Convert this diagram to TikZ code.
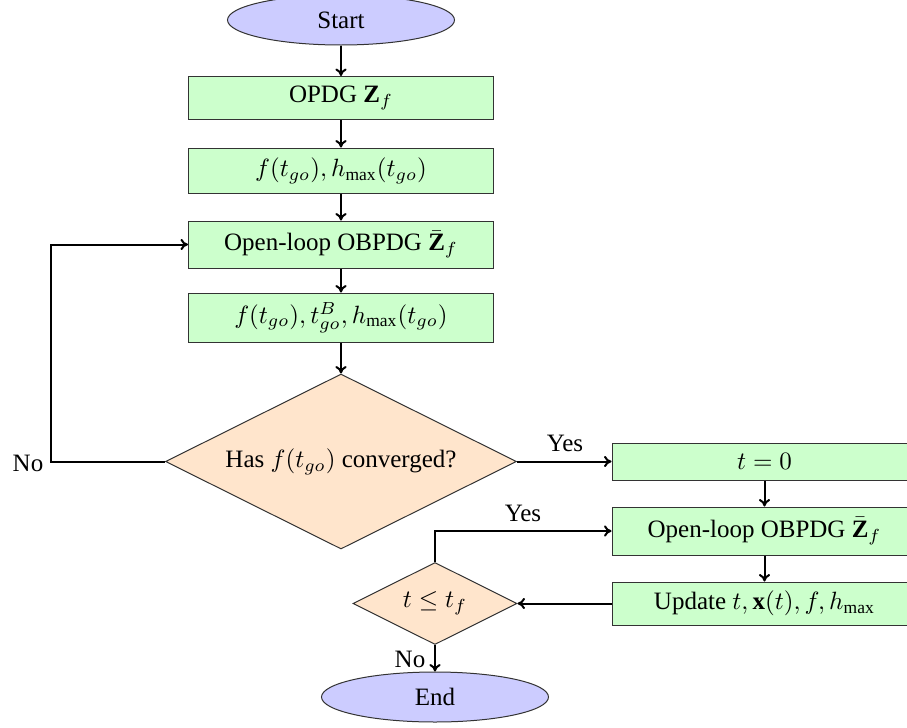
\documentclass[tikz,border=0pt]{standalone}
\usepackage{fontspec}
\setmainfont{Liberation Serif}
\usetikzlibrary{shapes.geometric,arrows.meta}
\begin{document}
\begin{tikzpicture}[x=0.4pt,y=-0.4pt,
  procbox/.style={draw=black!80,line width=0.4pt,fill=green!20,rectangle,minimum width=122pt,inner sep=0pt},
  decbox/.style={draw=black!80,line width=0.4pt,fill=orange!20,diamond,aspect=2,inner sep=0pt},
  termbox/.style={draw=black!80,line width=0.4pt,fill=blue!20,ellipse,minimum width=90.8pt,minimum height=20pt,inner sep=0pt},
  arr/.style={-{To[length=3pt,width=4.5pt]},line width=0.8pt},
  lbl/.style={inner sep=0pt}]
\useasboundingbox (0,0) rectangle (907,727);
\node[termbox] (start) at (341,20) {Start};
\node[procbox,minimum height=17.2pt] (b1) at (341,98) {OPDG $\mathbf{Z}_f$};
\node[procbox,minimum height=18pt] (b2) at (341,170.5) {$f(t_{go}), h_{\max}(t_{go})$};
\node[procbox,minimum height=18.8pt] (b3) at (341,244.5) {Open-loop OBPDG $\bar{\mathbf{Z}}_f$};
\node[procbox,minimum height=19.6pt] (b4) at (341,317.5) {$f(t_{go}), t_{go}^{B}, h_{\max}(t_{go})$};
\node[decbox,minimum width=140.4pt,minimum height=70pt] (d1) at (341,461.5) {Has $f(t_{go})$ converged?};
\node[procbox,minimum height=14.8pt] (r1) at (764.5,461.5) {$t = 0$};
\node[procbox,minimum height=19.2pt] (r2) at (764.5,531) {Open-loop OBPDG $\bar{\mathbf{Z}}_f$};
\node[procbox,minimum height=17.2pt] (r3) at (764.5,603.5) {Update $t, \mathbf{x}(t), f, h_{\max}$};
\node[decbox,minimum width=65.6pt,minimum height=32.8pt] (d2) at (435,603.5) {$t \le t_f$};
\node[termbox] (end) at (435,697) {End};
\coordinate (c1) at (51,461.5);
\draw[arr] (start) -- (b1);
\draw[arr] (b1) -- (b2);
\draw[arr] (b2) -- (b3);
\draw[arr] (b3) -- (b4);
\draw[arr] (b4) -- (d1);
\draw[arr] (d1.west) -- (c1) |- (b3.west);
\node[lbl] (no1) at (28,463) {No};
\draw[arr] (d1.east) -- (r1.west);
\node[lbl] (yes1) at (565,443) {Yes};
\draw[arr] (r1) -- (r2);
\draw[arr] (r2) -- (r3);
\draw[arr] (r3.west) -- (d2.east);
\draw[arr] (d2.north) |- (r2.west);
\node[lbl] (yes2) at (523,513) {Yes};
\draw[arr] (d2.south) -- (end.north);
\node[lbl] (no2) at (410,659) {No};
\end{tikzpicture}
\end{document}
